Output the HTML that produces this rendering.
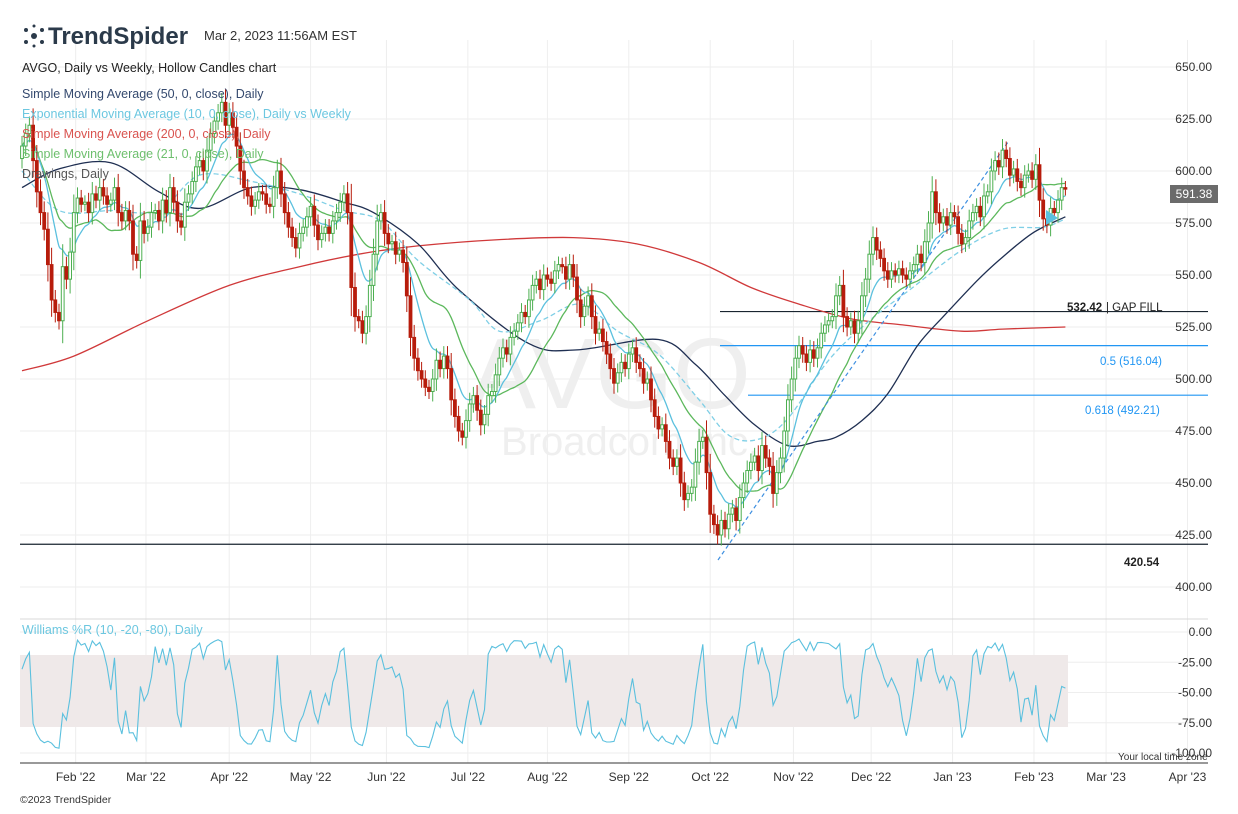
<!DOCTYPE html>
<html><head><meta charset="utf-8">
<style>
html,body{margin:0;padding:0;background:#fff;}
body{width:1238px;height:809px;overflow:hidden;font-family:"Liberation Sans",sans-serif;}
svg text{font-family:"Liberation Sans",sans-serif;}
</style></head>
<body>
<svg id="chart" width="1238" height="809" xmlns="http://www.w3.org/2000/svg">
<g id="grid"></g>
<g>
<text x="610" y="408" font-size="100" fill="#efefef" text-anchor="middle">AVGO</text>
<text x="630" y="455" font-size="40" fill="#efefef" text-anchor="middle">Broadcom Inc.</text>
</g>
<rect x="20" y="655" width="1048" height="72" fill="#efe9e9"/>
<g id="marks"></g>
<g id="labels"></g>
<g>
<g fill="#2b3a4a">
<circle cx="34" cy="36" r="3"/><circle cx="26" cy="30" r="2"/><circle cx="42" cy="30" r="2"/><circle cx="26" cy="42" r="2"/><circle cx="42" cy="42" r="2"/><circle cx="34" cy="26" r="1.5"/><circle cx="34" cy="46" r="1.5"/>
</g>
<text x="48" y="44" font-size="24" font-weight="bold" fill="#2b3a4a">TrendSpider</text>
<text x="204" y="40" font-size="13" fill="#333">Mar 2, 2023 11:56AM EST</text>
</g>
<g font-size="12.5">
<text x="22" y="72" fill="#222">AVGO, Daily vs Weekly, Hollow Candles chart</text>
<text x="22" y="98" fill="#34496e">Simple Moving Average (50, 0, close), Daily</text>
<text x="22" y="118" fill="#6cc7e0">Exponential Moving Average (10, 0, close), Daily vs Weekly</text>
<text x="22" y="138" fill="#d9534f">Simple Moving Average (200, 0, close), Daily</text>
<text x="22" y="158" fill="#6dbf6d">Simple Moving Average (21, 0, close), Daily</text>
<text x="22" y="178" fill="#555">Drawings, Daily</text>
</g>
<text x="22" y="634" font-size="12.5" fill="#6cc7e0">Williams %R (10, -20, -80), Daily</text>
<text x="1118" y="760" font-size="10" fill="#333">Your local time zone</text>
<text x="20" y="803" font-size="10.5" fill="#333">©2023 TrendSpider</text>
</svg>
<script>
const closes=[612,618,622,605,590,580,572,555,538,532,528,554,548,561,580,587,584,585,580,589,586,592,588,584,586,592,580,576,581,576,560,557,576,570,573,580,581,576,586,580,592,585,576,573,585,589,595,602,605,600,610,618,624,628,633,622,628,621,612,600,592,588,583,586,590,589,584,583,592,600,589,580,573,568,563,570,573,578,583,574,567,570,573,570,576,580,585,589,580,544,530,528,522,530,545,560,576,580,570,565,566,560,562,556,540,520,510,504,500,496,494,500,509,505,511,505,490,482,475,472,480,488,492,485,478,483,492,494,502,510,515,512,520,523,527,532,530,538,545,548,543,550,548,546,552,555,554,548,555,549,538,530,535,540,530,522,524,518,512,505,498,503,508,505,512,515,508,505,498,500,490,482,476,478,470,462,458,462,450,442,445,448,460,470,472,455,435,430,425,432,428,435,438,432,443,450,456,460,463,456,468,462,458,445,455,462,475,490,500,510,516,512,508,514,510,515,522,526,528,530,540,545,530,525,528,522,528,540,548,560,568,562,558,552,548,552,550,553,550,548,552,555,560,556,566,575,590,580,575,578,574,580,578,570,565,568,576,580,583,578,588,590,600,605,602,610,606,598,601,595,592,598,600,596,603,586,577,574,582,580,586,592,591.38];
const opens=[606].concat(closes.slice(0,-1));
// sampled moving-average values [index, price]
const sma50Idx=[0,10,24,37,48,62,75,87,95,107,118,137,150,172,182,190,198,207,215,220,227,234,242,249,258,264,273,282];
const sma50Val=[592,601,604,590,582,592,591,585,580,565,543,517,514,519,507,492,478,468,470,472,480,493,516,530,547,557,570,578];
const sma200Idx=[0,14,34,56,75,91,107,129,149,166,183,197,210,224,238,254,265,282];
const sma200Val=[504,511,528,545,554,560,564,567,568,565,556,544,536,529,526,523,524,525];
const emaWIdx=[0,10,24,37,48,62,75,87,97,107,121,129,140,151,161,172,183,191,199,207,218,229,240,254,265,276,282];
const emaWVal=[600,581,581,581,598,595,589,581,576,557,538,523,528,536,523,512,490,473,471,481,509,528,543,562,572,573,577];
const priceTicks=[650,625,600,575,550,525,500,475,450,425,400];
const wrTicks=[0,-25,-50,-75,-100];
const monthLabels=["Feb '22","Mar '22","Apr '22","May '22","Jun '22","Jul '22","Aug '22","Sep '22","Oct '22","Nov '22","Dec '22","Jan '23","Feb '23","Mar '23","Apr '23"];
const monthIdx=[14.5,33.5,56,78,98.5,120.5,142,164,186,208.5,229.5,251.5,273.5,293,315];

const NS="http://www.w3.org/2000/svg";
const X=i=>22+i*3.7;
const Y=p=>67+(650-p)*2.08;
const WY=v=>632+(-v)*1.21;
function mk(tag,attrs,parent){const e=document.createElementNS(NS,tag);for(const k in attrs)e.setAttribute(k,attrs[k]);parent.appendChild(e);return e;}
const grid=document.getElementById('grid'),marks=document.getElementById('marks'),labels=document.getElementById('labels');

priceTicks.forEach(p=>{
 const l=mk('line',{x1:20,x2:1208,y1:Y(p),y2:Y(p),stroke:'#eeeeee'},grid);
 
 
 const t=mk('text',{x:1212,y:Y(p)+4,'font-size':12,fill:'#333','text-anchor':'end'},labels);
 t.textContent=p.toFixed(2);
 
 
});
wrTicks.forEach(v=>{
 const l=mk('line',{x1:20,x2:1208,y1:WY(v),y2:WY(v),stroke:'#eeeeee'},grid);
 
 
 const t=mk('text',{x:1212,y:WY(v)+4,'font-size':12,fill:'#333','text-anchor':'end'},labels);
 t.textContent=v.toFixed(2);
 
 
});
monthLabels.forEach((m,k)=>{
 const x=X(monthIdx[k]);
 const l=mk('line',{x1:x,x2:x,y1:40,y2:763,stroke:'#eeeeee'},grid);
 
 
 const t=mk('text',{x:x,y:781,'font-size':12,fill:'#333','text-anchor':'middle'},labels);
 t.textContent=m;
 
 
});
let sep=mk('line',{x1:20,x2:1208,y1:619,y2:619,stroke:'#d8d8d8'},grid);


let xa=mk('line',{x1:20,x2:1208,y1:763,y2:763,stroke:'#333'},grid);



function hline(p,x1,color,name){const l=mk('line',{x1:x1,x2:1208,y1:Y(p),y2:Y(p),stroke:color,'stroke-width':1.2},marks);
 
 }
hline(532.42,720,'#1a2530','gap-fill-line');
hline(516.04,720,'#2196f3','fib-0.5-line');
hline(492.21,748,'#2196f3','fib-0.618-line');
hline(420.54,20,'#1a2530','support-line-420');

function smoothPath(pts){
 let d='M'+pts[0][0].toFixed(1)+','+pts[0][1].toFixed(1);
 for(let k=0;k<pts.length-1;k++){
  const p0=pts[Math.max(0,k-1)],p1=pts[k],p2=pts[k+1],p3=pts[Math.min(pts.length-1,k+2)];
  const c1=[p1[0]+(p2[0]-p0[0])/6,p1[1]+(p2[1]-p0[1])/6],c2=[p2[0]-(p3[0]-p1[0])/6,p2[1]-(p3[1]-p1[1])/6];
  d+=' C'+c1[0].toFixed(1)+','+c1[1].toFixed(1)+' '+c2[0].toFixed(1)+','+c2[1].toFixed(1)+' '+p2[0].toFixed(1)+','+p2[1].toFixed(1);
 }
 return d;
}
function curve(idx,val,color,dash,name,w){
 const pts=idx.map((i,k)=>[X(i),Y(val[k])]);
 const p=mk('path',{d:smoothPath(pts),fill:'none',stroke:color,'stroke-width':w||1.3,'stroke-dasharray':dash||'none'},marks);
 
 
}
const allIdx=closes.map((c,i)=>i);
const ema=[];closes.forEach((c,i)=>{ema.push(i?ema[i-1]+(c-ema[i-1])*2/11:c);});
const sma21=closes.map((c,i)=>{const s=closes.slice(Math.max(0,i-20),i+1);return s.reduce((a,b)=>a+b,0)/s.length;});
curve(sma200Idx,sma200Val,'#d0393a',null,'sma200-line');
curve(sma50Idx,sma50Val,'#1f2f52',null,'sma50-line');
curve(emaWIdx,emaWVal,'#7fcfe6','5,3','ema10-weekly-line');
curve(allIdx,sma21,'#5cb85c',null,'sma21-line');
curve(allIdx,ema,'#5bc0de',null,'ema10-line');
const tl=mk('line',{x1:718,y1:560,x2:1008,y2:142,stroke:'#3d8fe0','stroke-width':1.2,'stroke-dasharray':'4,3'},marks);



const highs=[],lows=[];
closes.forEach((c,i)=>{
 const o=opens[i],hi=Math.max(o,c)+Math.abs(c-o)*0.3+3,lo=Math.min(o,c)-Math.abs(c-o)*0.3-3;
 highs.push(hi);lows.push(lo);
 const up=c>=o,col=up?'#4caf50':'#b71c0c',x=X(i);
 const g=mk('g',{},marks);
 
 
 mk('line',{x1:x,x2:x,y1:Y(hi),y2:Y(lo),stroke:col,'stroke-width':1},g);
 const top=Y(Math.max(o,c)),h=Math.max(1.5,Math.abs(Y(o)-Y(c)));
 mk('rect',{x:x-1.4,y:top,width:2.8,height:h,fill:up?'#fff':col,stroke:col,'stroke-width':1},g);
});
const wr=closes.map((c,i)=>{const s=Math.max(0,i-9);const hh=Math.max(...highs.slice(s,i+1)),ll=Math.min(...lows.slice(s,i+1));return -100*(hh-c)/(hh-ll);});
const wpts=wr.map((v,i)=>X(i).toFixed(1)+','+WY(v).toFixed(1)).join(' ');
const wl=mk('polyline',{points:wpts,fill:'none',stroke:'#5bc0de','stroke-width':1.1},marks);



function lbl(txt,x,y,color,bold,name){const t=mk('text',{x:x,y:y,'font-size':11.5,fill:color,'font-weight':bold?'bold':'normal'},labels);t.textContent=txt;
 
 }
lbl('532.42',1067,311,'#222',true,'gap-fill-value');
lbl('| GAP FILL',1106,311,'#222',false,'gap-fill-label');
lbl('0.5 (516.04)',1100,365,'#2196f3',false,'fib-0.5-label');
lbl('0.618 (492.21)',1085,414,'#2196f3',false,'fib-0.618-label');
lbl('420.54',1124,566,'#222',true,'support-420-label');
const pb=mk('rect',{x:1170,y:185,width:48,height:18,fill:'#6b6b6b'},labels);


const pt=mk('text',{x:1194,y:198,'font-size':12,fill:'#fff','text-anchor':'middle'},labels);
pt.textContent='591.38';


const arr=mk('polygon',{points:'1046,210 1058,218 1046,225',fill:'#5bc0de'},marks);


</script>
</body></html>
